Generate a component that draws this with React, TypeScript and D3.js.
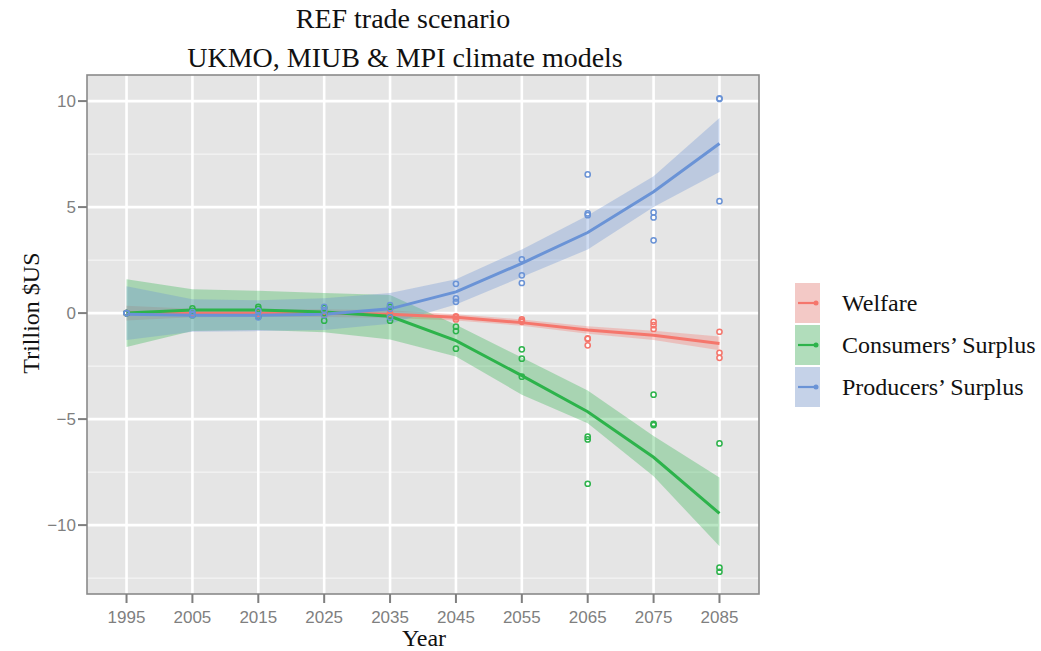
import React from "react";
import * as d3 from "d3";

const years = [1995, 2005, 2015, 2025, 2035, 2045, 2055, 2065, 2075, 2085];
const yTicks = [-10, -5, 0, 5, 10];
const yMinor = [-12.5, -7.5, -2.5, 2.5, 7.5];
const seriesNames = ["Welfare", "Consumers\u2019 Surplus", "Producers\u2019 Surplus"];
const seriesColors = ["#F5766C", "#2DB34B", "#6A93D6"];

// model points (three climate models per year)
const welfareA = [0, 0.05, 0.05, 0.05, 0.0, -0.15, -0.3, -1.19, -0.41, -0.88];
const welfareB = [0, 0.0, 0.0, 0.0, -0.05, -0.2, -0.35, -1.22, -0.57, -1.87];
const welfareC = [0, -0.05, -0.05, -0.1, -0.1, -0.3, -0.41, -1.52, -0.75, -2.11];

const consumersA = [0, 0.22, 0.3, 0.25, 0.3, -0.64, -1.71, -5.83, -3.85, -6.15];
const consumersB = [0, 0.1, 0.2, 0.0, -0.2, -0.85, -2.15, -5.96, -5.22, -12.01];
const consumersC = [0, -0.1, -0.17, -0.36, -0.36, -1.68, -3.0, -8.05, -5.28, -12.2];

const producersA = [0, 0.05, 0.1, 0.3, 0.38, 1.38, 2.53, 6.54, 4.75, 10.13];
const producersB = [0, -0.05, -0.1, 0.14, 0.2, 0.69, 1.78, 4.7, 4.51, 10.1];
const producersC = [0, -0.1, -0.2, -0.1, -0.2, 0.53, 1.42, 4.62, 3.43, 5.28];

// smoothed fits and confidence bands
const welfareFit = [0, 0, 0, 0, -0.05, -0.2, -0.45, -0.8, -1.05, -1.43];
const welfareLow = [-0.35, -0.2, -0.18, -0.18, -0.23, -0.35, -0.6, -0.98, -1.27, -1.75];
const welfareHigh = [0.35, 0.2, 0.18, 0.18, 0.13, -0.05, -0.3, -0.62, -0.83, -1.11];

const consumersFit = [0, 0.15, 0.15, 0.05, -0.15, -1.3, -2.95, -4.65, -6.8, -9.45];
const consumersLow = [-1.6, -0.85, -0.8, -0.9, -1.25, -2.05, -3.85, -5.2, -7.7, -11.0];
const consumersHigh = [1.6, 1.12, 1.05, 0.95, 0.85, -0.55, -2.1, -3.65, -5.8, -7.75];

const producersFit = [-0.05, -0.1, -0.1, -0.05, 0.2, 1.0, 2.35, 3.8, 5.72, 8.0];
const producersLow = [-1.27, -0.88, -0.85, -0.8, -0.5, 0.4, 1.7, 3.0, 5.0, 6.66];
const producersHigh = [1.27, 0.65, 0.6, 0.7, 0.95, 1.6, 3.0, 4.6, 6.45, 9.2];

const pointSets = [
  [welfareA, welfareB, welfareC],
  [consumersA, consumersB, consumersC],
  [producersA, producersB, producersC],
];
const fits = [welfareFit, consumersFit, producersFit];
const lows = [welfareLow, consumersLow, producersLow];
const highs = [welfareHigh, consumersHigh, producersHigh];

const W = 1041;
const H = 651;
const panel = { left: 87, right: 759, top: 75, bottom: 594 };

export default function App() {
  const x = d3.scaleLinear().domain([1989, 2091]).range([panel.left, panel.right]);
  const y = d3.scaleLinear().domain([-13.25, 11.23]).range([panel.bottom, panel.top]);

  const area = (lo: number[], hi: number[]) =>
    d3
      .area<number>()
      .x((d) => x(d))
      .y0((_, i) => y(lo[i]))
      .y1((_, i) => y(hi[i]))(years) as string;
  const line = (v: number[]) =>
    d3
      .line<number>()
      .x((d) => x(d))
      .y((_, i) => y(v[i]))(years) as string;

  const serif = "'Liberation Serif', 'Times New Roman', serif";
  const sans = "'Liberation Sans', Arial, sans-serif";
  const legendY = [303, 345, 387];

  return (
    <svg
      width={W}
      height={H}
      style={{ position: "absolute", left: 0, top: 0, background: "#fff" }}
    >
      <rect x={0} y={0} width={W} height={H} fill="#fff" />
      {/* title */}
      <text x={403} y={28} textAnchor="middle" fontFamily={serif} fontSize={28} fill="#111">
        REF trade scenario
      </text>
      <text x={405} y={67} textAnchor="middle" fontFamily={serif} fontSize={28} fill="#111">
        UKMO, MIUB &amp; MPI climate models
      </text>

      {/* panel */}
      <rect
        x={panel.left}
        y={panel.top}
        width={panel.right - panel.left}
        height={panel.bottom - panel.top}
        fill="#E5E5E5"
      />
      {yMinor.map((v) => (
        <line key={"ym" + v} x1={panel.left} x2={panel.right} y1={y(v)} y2={y(v)} stroke="#F4F4F4" strokeWidth={1.3} />
      ))}
      {yTicks.map((v) => (
        <line key={"yg" + v} x1={panel.left} x2={panel.right} y1={y(v)} y2={y(v)} stroke="#fff" strokeWidth={2.6} />
      ))}
      {years.map((v) => (
        <line key={"xg" + v} x1={x(v)} x2={x(v)} y1={panel.top} y2={panel.bottom} stroke="#fff" strokeWidth={2.6} />
      ))}

      {/* bands */}
      {fits.map((_, s) => (
        <path key={"band" + s} d={area(lows[s], highs[s])} fill={seriesColors[s]} fillOpacity={0.33} />
      ))}
      {/* lines */}
      {fits.map((f, s) => (
        <path key={"line" + s} d={line(f)} fill="none" stroke={seriesColors[s]} strokeWidth={3} />
      ))}
      {/* points */}
      {pointSets.map((sets, s) =>
        sets.map((vals, m) =>
          vals.map((v, i) => (
            <circle
              key={`p${s}-${m}-${i}`}
              cx={x(years[i])}
              cy={y(v)}
              r={2.6}
              fill="none"
              stroke={seriesColors[s]}
              strokeWidth={1.5}
            />
          ))
        )
      )}

      {/* border */}
      <rect
        x={panel.left}
        y={panel.top}
        width={panel.right - panel.left}
        height={panel.bottom - panel.top}
        fill="none"
        stroke="#8a8a8a"
        strokeWidth={1.6}
      />

      {/* axes */}
      {yTicks.map((v) => (
        <g key={"yt" + v}>
          <line x1={panel.left - 9} x2={panel.left} y1={y(v)} y2={y(v)} stroke="#7f7f7f" strokeWidth={2} />
          <text x={panel.left - 11} y={y(v)} dy="0.36em" textAnchor="end" fontFamily={sans} fontSize={17} fill="#7f7f7f">
            {v < 0 ? "\u2212" + Math.abs(v) : String(v)}
          </text>
        </g>
      ))}
      {years.map((v) => (
        <g key={"xt" + v}>
          <line x1={x(v)} x2={x(v)} y1={panel.bottom} y2={panel.bottom + 9} stroke="#7f7f7f" strokeWidth={2} />
          <text x={x(v)} y={panel.bottom + 29} textAnchor="middle" fontFamily={sans} fontSize={17} fill="#7f7f7f">
            {v}
          </text>
        </g>
      ))}
      <text x={424} y={646} textAnchor="middle" fontFamily={serif} fontSize={24} fill="#111">
        Year
      </text>
      <text
        transform={`translate(39, ${y(0)}) rotate(-90)`}
        textAnchor="middle"
        fontFamily={serif}
        fontSize={24}
        fill="#111"
      >
        Trillion $US
      </text>

      {/* legend */}
      {seriesNames.map((name, s) => (
        <g key={"lg" + s}>
          <rect x={795} y={legendY[s] - 20} width={25} height={40} fill="#F2F2F2" />
          <rect x={795} y={legendY[s] - 20} width={25} height={40} fill={seriesColors[s]} fillOpacity={0.33} />
          <line x1={798} x2={817} y1={legendY[s]} y2={legendY[s]} stroke={seriesColors[s]} strokeWidth={2.2} />
          <circle cx={816} cy={legendY[s]} r={2.5} fill={seriesColors[s]} />
          <text x={842} y={legendY[s]} dy="0.33em" fontFamily={serif} fontSize={24} fill="#111">
            {name}
          </text>
        </g>
      ))}
    </svg>
  );
}
